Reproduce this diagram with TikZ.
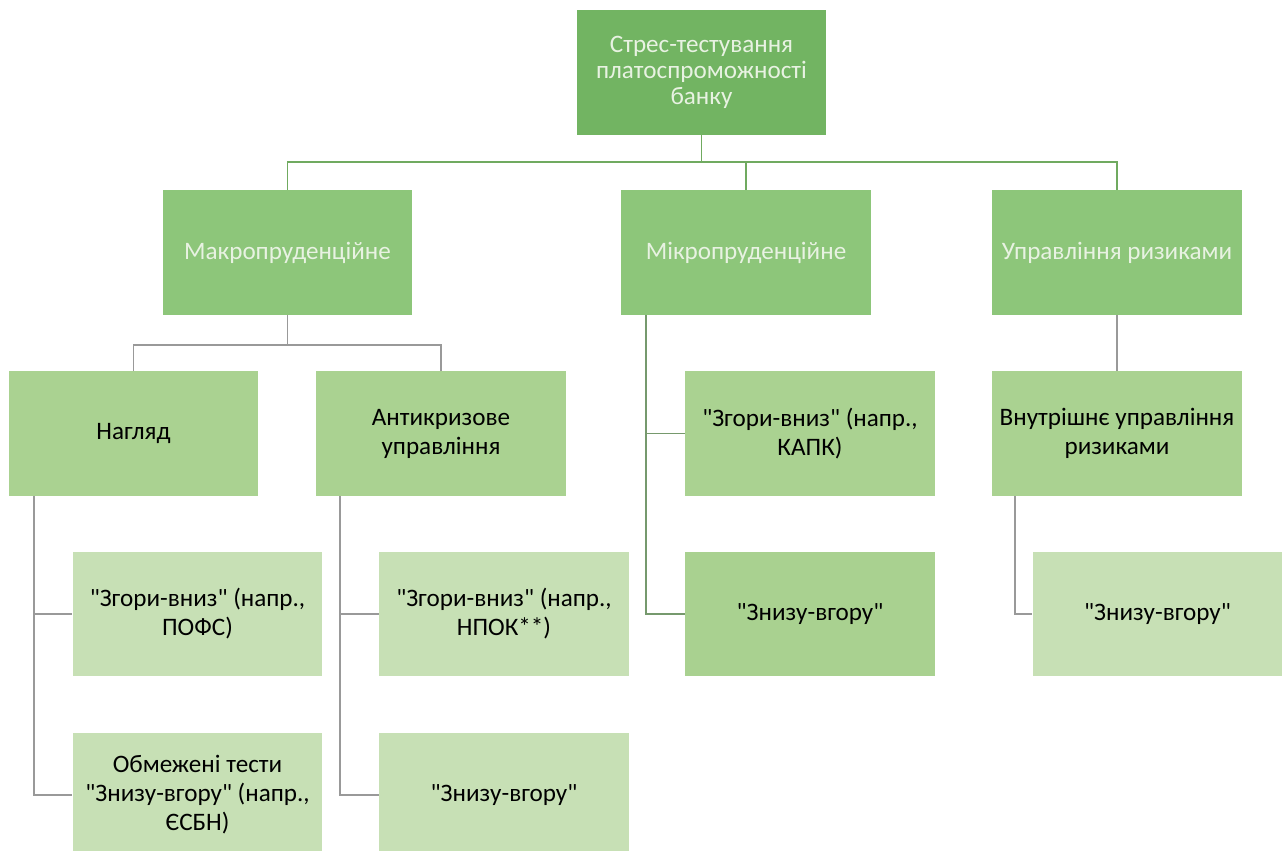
\documentclass[tikz,border=0pt]{standalone}
\usepackage{fontspec}
\setmainfont{Carlito}
\usetikzlibrary{calc}

\definecolor{gTop}{RGB}{114,180,98}
\definecolor{gMid}{RGB}{141,198,122}
\definecolor{gLow}{RGB}{170,210,145}
\definecolor{gPale}{RGB}{199,224,181}
\definecolor{gLine}{RGB}{112,170,96}
\definecolor{gText}{RGB}{232,242,226}

\newcommand{\qt}[1]{\textquotedbl#1\textquotedbl}

\begin{document}
\begin{tikzpicture}[x=0.02cm,y=-0.02cm,
  box/.style={minimum width=5cm,minimum height=2.5cm,inner sep=2pt,align=center,
    font=\fontsize{14.3}{16.5}\selectfont},
  headbox/.style={box,fill=gTop,text=gText,font=\fontsize{14.3}{14.8}\selectfont},
  branchbox/.style={box,fill=gMid,text=gText},
  lowbox/.style={box,fill=gLow,text=black},
  palebox/.style={box,fill=gPale,text=black},
  toplink/.style={gLine,line width=1pt},
  sublink/.style={gray!80,line width=1pt}]

\clip (0,0) rectangle (1282,851);

\coordinate (busA) at (0,162);
\coordinate (busB) at (0,345);

\node[headbox,minimum width=4.98cm] (test) at (701.5,72.5) {\raisebox{-4pt}{\parbox{4.8cm}{\centering Стрес-тестування\\платоспроможності\\банку}}};

\node[branchbox] (makro) at (287.5,252.5) {Макропруденційне};
\node[branchbox] (mikro) at (746,252.5) {Мікропруденційне};
\node[branchbox] (risk) at (1117,252.5) {Управління ризиками};

\node[lowbox] (nagl) at (133.5,433.5) {Нагляд};
\node[lowbox] (anti) at (441,433.5) {Антикризове\\управління};
\node[lowbox] (mkUp) at (810,433.5) {\qt{Згори-вниз} (напр.,\\КАПК)};
\node[lowbox] (vnutr) at (1117,433.5) {Внутрішнє управління\\ризиками};

\node[palebox] (naglA) at (197.5,614) {\qt{Згори-вниз} (напр.,\\ПОФС)};
\node[palebox] (naglB) at (197.5,795) {Обмежені тести\\\qt{Знизу-вгору} (напр.,\\ЄСБН)};
\node[palebox] (antiA) at (504,614) {\qt{Згори-вниз} (напр.,\\НПОК**)};
\node[palebox] (antiB) at (504,795) {\qt{Знизу-вгору}};
\node[lowbox,fill=gLow!95!gMid] (mkDown) at (810,614) {\qt{Знизу-вгору}};
\node[palebox] (vnutrA) at (1157.5,614) {\qt{Знизу-вгору}};

% top level
\draw[toplink] (test.south) -- (test.south |- busA) -| (makro.north);
\draw[toplink] (test.south |- busA) -| (mikro.north);
\draw[toplink] (test.south |- busA) -| (risk.north);

% macro branch
\draw[sublink] (makro.south) -- (makro.south |- busB) -| (nagl.north);
\draw[sublink] (makro.south |- busB) -| (anti.north);

\draw[sublink] ($(nagl.south west)+(26,0)$) |- (naglA.west);
\draw[sublink] ($(nagl.south west)+(26,0)$) |- (naglB.west);
\draw[sublink] ($(anti.south west)+(24,0)$) |- (antiA.west);
\draw[sublink] ($(anti.south west)+(24,0)$) |- (antiB.west);

% micro branch
\draw[sublink,gLine!60!gray] ($(mikro.south west)+(25,0)$) |- (mkUp.west);
\draw[sublink,gLine!60!gray] ($(mikro.south west)+(25,0)$) |- (mkDown.west);

% risk branch
\draw[sublink] (risk.south) -- (vnutr.north);
\draw[sublink] ($(vnutr.south west)+(23,0)$) |- (vnutrA.west);

\end{tikzpicture}
\end{document}
